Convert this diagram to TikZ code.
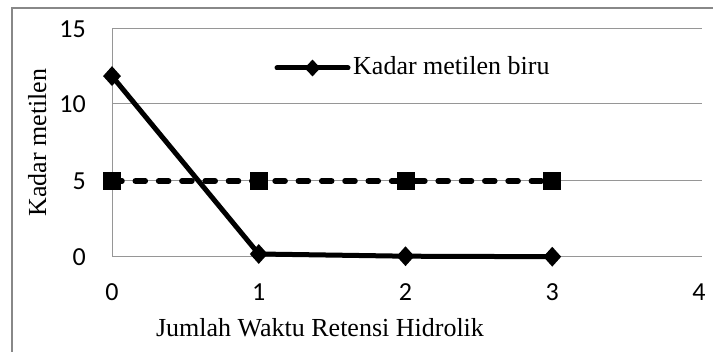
\documentclass[tikz,border=0pt]{standalone}
\usepackage{fontspec}
\setmainfont{Liberation Serif}
\newfontfamily\tickfont{Carlito}
\usetikzlibrary{shapes.geometric}
\definecolor{bordergray}{RGB}{136,136,136}
\definecolor{gridgray}{RGB}{150,150,150}
\begin{document}
\begin{tikzpicture}[x=1pt,y=-1pt,
  frameline/.style={draw=bordergray,line width=1.6pt},
  gridline/.style={draw=gridgray,line width=1pt},
  ticklabel/.style={font=\tickfont\fontsize{26}{26}\selectfont,inner sep=0pt},
  titlelabel/.style={font=\fontsize{26}{26}\selectfont,inner sep=0pt},
  solidseries/.style={draw=black,line width=5pt,line join=round},
  dashseries/.style={draw=black,line width=5.5pt,line cap=round,dash pattern=on 10pt off 13.3pt},
  diamondmark/.style={diamond,fill=black,inner sep=0pt,minimum width=18pt,minimum height=20pt},
  squaremark/.style={rectangle,fill=black,inner sep=0pt,minimum width=18pt,minimum height=18pt}]
\useasboundingbox (0,0) rectangle (713,352);
% outer frame (top and left visible)
\coordinate (fbl) at (12,352);
\coordinate (ftl) at (12,8);
\coordinate (ftr) at (713,8);
\draw[frameline] (fbl) -- (ftl) -- (ftr);
% plot area
\coordinate (g0l) at (112,257); \coordinate (g0r) at (702,257);
\coordinate (g5l) at (112,181); \coordinate (g5r) at (702,181);
\coordinate (g10l) at (112,104); \coordinate (g10r) at (702,104);
\coordinate (g15l) at (112,29); \coordinate (g15r) at (702,29);
\draw[gridline] (g0l) -- (g0r);
\draw[gridline] (g5l) -- (g5r);
\draw[gridline] (g10l) -- (g10r);
\draw[gridline] (g15l) -- (g15r);
\draw[gridline] (g0l) -- (g15l);
% y tick labels
\node[ticklabel,anchor=east] (y15) at (86,29) {15};
\node[ticklabel,anchor=east] (y10) at (86,104) {10};
\node[ticklabel,anchor=east] (y5) at (86,181) {5};
\node[ticklabel,anchor=east] (y0) at (86,257) {0};
% x tick labels
\node[ticklabel] (x0) at (112,292) {0};
\node[ticklabel] (x1) at (258.75,292) {1};
\node[ticklabel] (x2) at (405.5,292) {2};
\node[ticklabel] (x3) at (552.25,292) {3};
\node[ticklabel] (x4) at (699,292) {4};
% axis titles
\node[titlelabel,anchor=base] (xtitle) at (320,337) {Jumlah Waktu Retensi Hidrolik};
\node[titlelabel,anchor=base,rotate=90] (ytitle) at (46,142.5) {Kadar metilen};
% dashed series at 5
\coordinate (q0) at (112,181);
\coordinate (q1) at (258.75,181);
\coordinate (q2) at (405.5,181);
\coordinate (q3) at (552.25,181);
\draw[dashseries] (q0) -- (q1) -- (q2) -- (q3);
\node[squaremark] (sq0) at (q0) {};
\node[squaremark] (sq1) at (q1) {};
\node[squaremark] (sq2) at (q2) {};
\node[squaremark] (sq3) at (q3) {};
% solid series
\coordinate (p0) at (112,76.1);
\coordinate (p1) at (258.75,254);
\coordinate (p2) at (405.5,256.2);
\coordinate (p3) at (552.25,256.7);
\draw[solidseries] (p0) -- (p1) -- (p2) -- (p3);
\node[diamondmark] (d0) at (p0) {};
\node[diamondmark] (d1) at (p1) {};
\node[diamondmark] (d2) at (p2) {};
\node[diamondmark] (d3) at (p3) {};
% legend
\coordinate (la) at (277,68);
\coordinate (lb) at (348,68);
\draw[solidseries,line cap=round] (la) -- (lb);
\node[diamondmark,minimum width=16pt,minimum height=17pt] (ld) at (312.5,68) {};
\node[titlelabel,anchor=base west] (ltext) at (353,75) {Kadar metilen biru};
\end{tikzpicture}
\end{document}
